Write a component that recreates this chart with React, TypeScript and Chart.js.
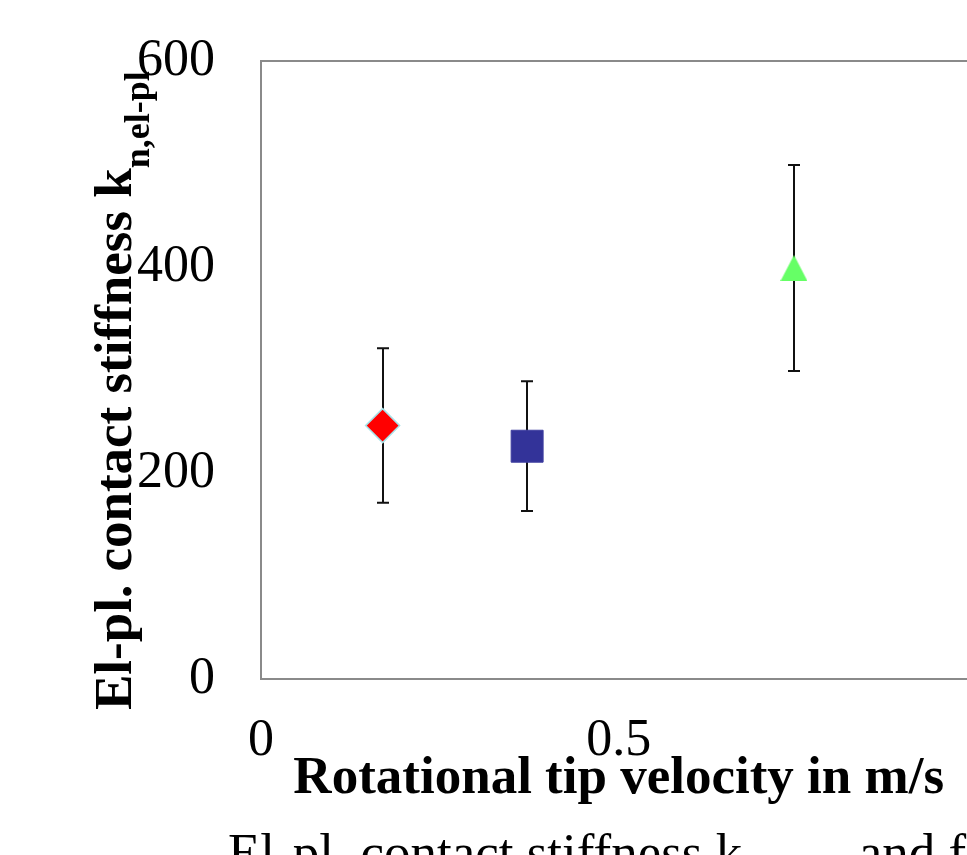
import React, { useEffect, useRef } from "react";
import { Chart, registerables } from "chart.js";

Chart.register(...registerables);

// ---- data ----
const seriesLabels = ["Velocity 1", "Velocity 2", "Velocity 3"];
const velocities = [0.17, 0.372, 0.745];
const stiffness = [246, 226, 399];
const stiffnessErr = [75, 63, 100];
const xTickValues = [0, 0.5, 1];
const yTickValues = [0, 200, 400, 600];
const xTitle = "Rotational tip velocity in m/s";
const yTitleMain = "El-pl. contact stiffness k";
const yTitleSub = "n,el-pl";
const captionMain = "El-pl. contact stiffness k";
const captionSub = "n,el-pl";
const captionRest = " and f";

const SERIF = '"Liberation Serif", "Times New Roman", serif';

function makeTriangle(color: string) {
  const c = document.createElement("canvas");
  const w = 27;
  const h = 26;
  c.width = w;
  c.height = h;
  const g = c.getContext("2d")!;
  g.fillStyle = color;
  g.beginPath();
  g.moveTo(w / 2, 0);
  g.lineTo(w, h);
  g.lineTo(0, h);
  g.closePath();
  g.fill();
  return c;
}

const framePlugin = {
  id: "frame",
  beforeDatasetsDraw(chart: any) {
    const { ctx, chartArea } = chart;
    ctx.save();
    ctx.strokeStyle = "#8a8a8a";
    ctx.lineWidth = 2;
    ctx.strokeRect(chartArea.left, chartArea.top, chartArea.right - chartArea.left, chartArea.bottom - chartArea.top);
    ctx.restore();
  },
};

const errorBarPlugin = {
  id: "errorBars",
  beforeDatasetsDraw(chart: any) {
    const { ctx } = chart;
    const xs = chart.scales.x;
    const ys = chart.scales.y;
    ctx.save();
    ctx.strokeStyle = "#111";
    ctx.lineWidth = 2;
    velocities.forEach((v, i) => {
      const px = Math.round(xs.getPixelForValue(v));
      const top = ys.getPixelForValue(stiffness[i] + stiffnessErr[i]);
      const bot = ys.getPixelForValue(stiffness[i] - stiffnessErr[i]);
      ctx.beginPath();
      ctx.moveTo(px, top);
      ctx.lineTo(px, bot);
      ctx.moveTo(px - 6, top);
      ctx.lineTo(px + 6, top);
      ctx.moveTo(px - 6, bot);
      ctx.lineTo(px + 6, bot);
      ctx.stroke();
    });
    ctx.restore();
  },
};

const yTitlePlugin = {
  id: "yTitle",
  afterDraw(chart: any) {
    const { ctx, chartArea } = chart;
    ctx.save();
    ctx.fillStyle = "#000";
    ctx.translate(chartArea.left - 130, chartArea.bottom + 31);
    ctx.rotate(-Math.PI / 2);
    ctx.textAlign = "left";
    ctx.textBaseline = "alphabetic";
    ctx.font = `bold 53px ${SERIF}`;
    ctx.fillText(yTitleMain, 0, 0);
    const w1 = ctx.measureText(yTitleMain).width;
    ctx.font = `bold 36px ${SERIF}`;
    ctx.fillText(yTitleSub, w1, 18);
    ctx.restore();
  },
};

export default function App() {
  const canvasRef = useRef<HTMLCanvasElement | null>(null);

  useEffect(() => {
    const canvas = canvasRef.current;
    if (!canvas) return;
    const styles = [
      { pointStyle: "rectRot", radius: 17, bg: "#ff0000", border: "#a8e2e8", bw: 1.5 },
      { pointStyle: "rect", radius: 22.6, bg: "#333399", border: "#3f3fa0", bw: 1 },
      { pointStyle: makeTriangle("#66ff66"), radius: 14, bg: "#66ff66", border: "#66ff66", bw: 0 },
    ];
    const chart = new Chart(canvas, {
      type: "scatter",
      data: {
        datasets: velocities.map((v, i) => ({
          label: seriesLabels[i],
          data: [{ x: v, y: stiffness[i] }],
          pointStyle: styles[i].pointStyle as any,
          pointRadius: styles[i].radius,
          pointBackgroundColor: styles[i].bg,
          pointBorderColor: styles[i].border,
          pointBorderWidth: styles[i].bw,
        })),
      },
      options: {
        animation: false,
        responsive: false,
        layout: { padding: { left: 0, top: 61, right: 21, bottom: 0 } },
        plugins: { legend: { display: false }, tooltip: { enabled: false } },
        scales: {
          x: {
            type: "linear",
            min: 0,
            max: 1,
            afterBuildTicks: (s: any) => {
              s.ticks = xTickValues.map((v) => ({ value: v }));
            },
            afterFit: (s: any) => {
              s.height = 176;
              s.paddingLeft = 0;
              s.paddingRight = 0;
            },
            grid: { display: false, drawTicks: false },
            border: { display: false },
            ticks: {
              padding: 31,
              color: "#000",
              font: { family: SERIF, size: 52 },
              maxRotation: 0,
              callback: (v: any) => String(v),
            },
            title: {
              display: true,
              text: xTitle,
              color: "#000",
              font: { family: SERIF, size: 53, weight: "bold" },
              padding: { top: 0, bottom: 44 },
            },
          },
          y: {
            type: "linear",
            min: 0,
            max: 600,
            afterBuildTicks: (s: any) => {
              s.ticks = yTickValues.map((v) => ({ value: v }));
            },
            afterFit: (s: any) => {
              s.width = 261;
              s.paddingTop = 0;
              s.paddingBottom = 0;
            },
            grid: { display: false, drawTicks: false },
            border: { display: false },
            ticks: {
              padding: 46,
              color: "#000",
              font: { family: SERIF, size: 52 },
              callback: (v: any) => String(v),
            },
          },
        },
      },
      plugins: [framePlugin, errorBarPlugin, yTitlePlugin],
    });
    return () => chart.destroy();
  }, []);

  return (
    <div
      style={{
        position: "fixed",
        left: 0,
        top: 0,
        width: 967,
        height: 855,
        overflow: "hidden",
        background: "#fff",
      }}
    >
      <canvas ref={canvasRef} width={1000} height={855} style={{ display: "block" }} />
      <div
        style={{
          position: "absolute",
          left: 228,
          top: 826,
          whiteSpace: "nowrap",
          fontFamily: SERIF,
          fontSize: 53,
          lineHeight: "53px",
          color: "#000",
        }}
      >
        {captionMain}
        <span style={{ fontSize: 40, position: "relative", top: 18 }}>{captionSub}</span>
        {captionRest}
      </div>
    </div>
  );
}
